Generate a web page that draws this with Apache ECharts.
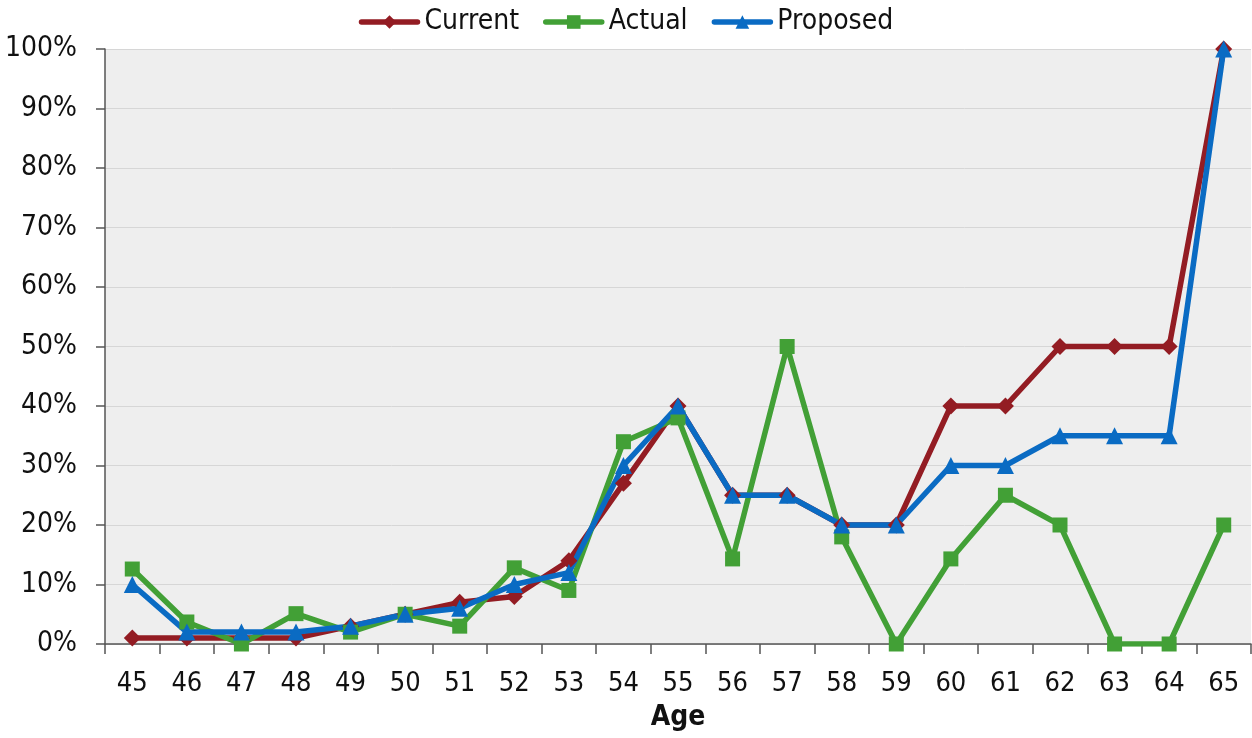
<!DOCTYPE html>
<html>
<head>
<meta charset="utf-8">
<script src="https://cdn.jsdelivr.net/npm/echarts@6/dist/echarts.min.js"></script>
<style>
  html, body { margin: 0; padding: 0; background: #ffffff; }
  #chart { width: 1252px; height: 738px; }
</style>
</head>
<body>
<div id="chart"></div>
<script>
// Retirement rates by age
const ages = ['45','46','47','48','49','50','51','52','53','54','55','56','57','58','59','60','61','62','63','64','65'];
const current  = [1, 1, 1, 1, 3, 5, 7, 8, 14, 27, 40, 25, 25, 20, 20, 40, 40, 50, 50, 50, 100];
const actual   = [12.6, 3.7, 0, 5.1, 2, 5, 3, 12.8, 9, 34, 38, 14.3, 50, 18, 0, 14.3, 25, 20, 0, 0, 20];
const proposed = [10, 2, 2, 2, 3, 5, 6, 10, 12, 30, 40, 25, 25, 20, 20, 30, 30, 35, 35, 35, 100];
const yTicks = [0, 10, 20, 30, 40, 50, 60, 70, 80, 90, 100];

const FONT = '"Liberation Sans Narrow", "Arial Narrow", "DejaVu Sans Condensed", sans-serif';

const chart = echarts.init(document.getElementById('chart'), null, { renderer: 'canvas' });

function lineSeries(name, data, color, symbol, size) {
  return {
    name, type: 'line', data,
    symbol, symbolSize: size,
    lineStyle: { color, width: 5.5, cap: 'round', join: 'round' },
    itemStyle: { color },
    emphasis: { disabled: true },
    animation: false
  };
}

chart.setOption({
  backgroundColor: '#ffffff',
  textStyle: { fontFamily: FONT },
  legend: {
    top: 3,
    left: 'center',
    itemWidth: 56,
    itemHeight: 17,
    itemGap: 24,
    lineStyle: { width: 5.5, cap: 'round' },
    textStyle: { fontFamily: FONT, fontSize: 28, color: '#111', padding: [0, 0, 0, 2] },
    data: ['Current', 'Actual', 'Proposed']
  },
  grid: {
    left: 105, right: 1, top: 49, bottom: 94,
    show: true, backgroundColor: '#eeeeee', borderWidth: 0
  },
  xAxis: {
    type: 'category',
    data: ages,
    boundaryGap: true,
    name: 'Age',
    nameLocation: 'middle',
    nameGap: 60,
    nameTextStyle: { fontFamily: FONT, fontSize: 28, fontWeight: 'bold', color: '#111' },
    axisLine: { lineStyle: { color: '#555', width: 1.5 } },
    axisTick: { show: true, alignWithLabel: false, length: 10, lineStyle: { color: '#555', width: 1.5 } },
    axisLabel: { fontFamily: FONT, fontSize: 27, color: '#111', margin: 26 }
  },
  yAxis: {
    type: 'value',
    min: yTicks[0], max: yTicks[yTicks.length - 1], interval: 10,
    axisLine: { show: true, lineStyle: { color: '#555', width: 1.5 } },
    axisTick: { show: true, length: 9, lineStyle: { color: '#555', width: 1.5 } },
    splitLine: { show: true, lineStyle: { color: '#d6d6d6', width: 1 } },
    axisLabel: { fontFamily: FONT, fontSize: 28, color: '#111', margin: 28, formatter: '{value}%' }
  },
  series: [
    lineSeries('Current', current, '#931c23', 'diamond', 17),
    lineSeries('Actual', actual, '#42a036', 'rect', 15),
    lineSeries('Proposed', proposed, '#0a6bc3', 'triangle', 17)
  ]
});
</script>
</body>
</html>
